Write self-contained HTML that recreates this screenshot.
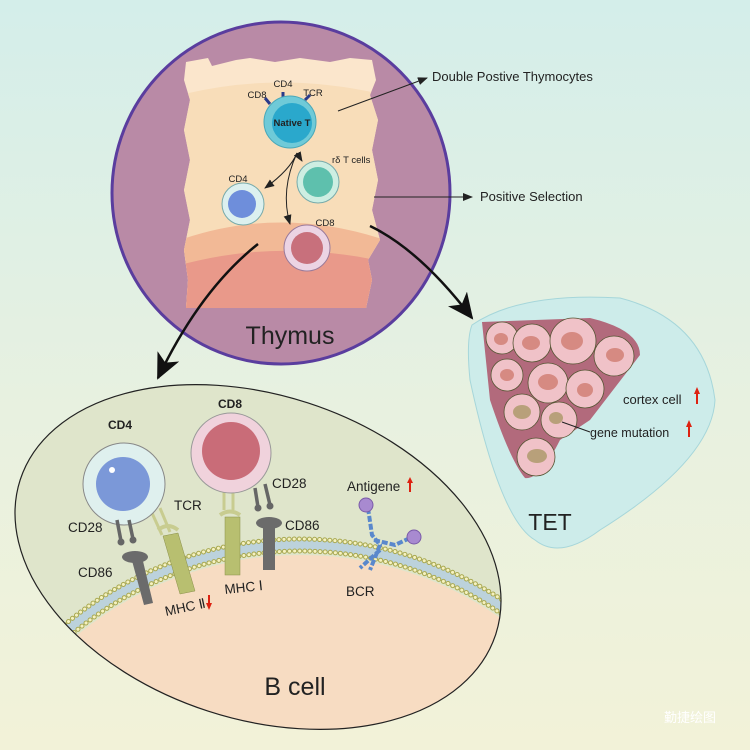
<!DOCTYPE html>
<html><head><meta charset="utf-8"><style>
html,body{margin:0;padding:0;width:750px;height:750px;overflow:hidden}
svg{display:block}
text{font-family:"Liberation Sans",sans-serif;fill:#222}
</style></head><body>
<svg width="750" height="750" viewBox="0 0 750 750" xmlns="http://www.w3.org/2000/svg" style="position:absolute;left:0;top:0">
<defs>
<linearGradient id="bg" x1="0" y1="0" x2="0" y2="1">
<stop offset="0" stop-color="#d4eeea"/><stop offset="0.55" stop-color="#e8f1e0"/><stop offset="1" stop-color="#f2f2d8"/>
</linearGradient>
<clipPath id="blk"><path d="M186,62 L208,58 212,66 236,60 250,58 275,62 300,58 330,62 350,58 372,60 376,80 370,95 378,120 372,150 378,180 372,210 380,240 368,260 372,280 366,308 186,308 188,280 184,250 190,220 184,190 190,160 184,130 190,100 184,80Z"/></clipPath>
<clipPath id="bc"><ellipse cx="258" cy="557" rx="250" ry="162" transform="rotate(18 258 557)"/></clipPath>
<marker id="ah" markerWidth="10" markerHeight="8" refX="9" refY="4" orient="auto" markerUnits="userSpaceOnUse"><path d="M0,0 L10,4 L0,8 Z" fill="#222"/></marker>
<marker id="ab" markerWidth="28" markerHeight="24" refX="24" refY="12" orient="auto" markerUnits="userSpaceOnUse"><path d="M0,0 L26,12 L0,24 L7,12 Z" fill="#111"/></marker>
</defs>
<rect width="750" height="750" fill="url(#bg)"/>

<!-- Thymus -->
<ellipse cx="281" cy="193" rx="169" ry="171" fill="#b98aa6" stroke="#5a3d9e" stroke-width="3"/>
<g clip-path="url(#blk)">
<rect x="180" y="55" width="205" height="260" fill="#fbe6cc"/>
<path d="M180,95 Q280,70 385,95 L385,315 180,315Z" fill="#f8ddb9"/>
<path d="M180,240 Q280,205 385,240 L385,315 180,315Z" fill="#f2b996"/>
<path d="M180,265 Q280,238 385,262 L385,315 180,315Z" fill="#e9998a"/>
</g>
<g stroke="#2a3a8a" stroke-width="3"><line x1="270" y1="104" x2="265" y2="98"/><line x1="283" y1="98" x2="283" y2="92"/><line x1="305" y1="100" x2="310" y2="95"/></g>
<circle cx="290" cy="122" r="26" fill="#6fcad8" stroke="#4aa8b8"/>
<circle cx="292" cy="123" r="20" fill="#2aa8cc"/>
<text x="292" y="126" font-size="9.5" font-weight="bold" text-anchor="middle" fill="#123">Native T</text>
<text x="283" y="87" font-size="9.5" text-anchor="middle">CD4</text>
<text x="257" y="98" font-size="9.5" text-anchor="middle">CD8</text>
<text x="313" y="96" font-size="9.5" text-anchor="middle">TCR</text>
<circle cx="243" cy="204" r="21" fill="#dcf0ef" stroke="#7aa"/><circle cx="242" cy="204" r="14" fill="#6e8edb"/>
<text x="238" y="182" font-size="9.5" text-anchor="middle">CD4</text>
<circle cx="318" cy="182" r="21" fill="#cdeee2" stroke="#7aa"/><circle cx="318" cy="182" r="15" fill="#5ec0ad"/>
<text x="332" y="163" font-size="9.5">rδ T cells</text>
<circle cx="307" cy="248" r="23" fill="#ecd4e4" stroke="#9a7a9a"/><circle cx="307" cy="248" r="16" fill="#c8707c"/>
<text x="325" y="226" font-size="9.5" text-anchor="middle">CD8</text>
<path d="M297,153 Q290,170 265,188" fill="none" stroke="#222" marker-end="url(#ah)"/>
<path d="M297,153 Q280,190 290,224" fill="none" stroke="#222" marker-end="url(#ah)"/>
<path d="M297,153 L302,161" fill="none" stroke="#222" marker-end="url(#ah)"/>
<text x="290" y="344" font-size="25" text-anchor="middle">Thymus</text>
<line x1="338" y1="111" x2="427" y2="78" stroke="#222" marker-end="url(#ah)"/>
<text x="432" y="81" font-size="13">Double Postive Thymocytes</text>
<line x1="374" y1="197" x2="472" y2="197" stroke="#222" marker-end="url(#ah)"/>
<text x="480" y="201" font-size="13">Positive Selection</text>
<path d="M370,226 Q420,250 472,318" fill="none" stroke="#111" stroke-width="2.5" marker-end="url(#ab)"/>
<path d="M258,244 Q200,290 158,378" fill="none" stroke="#111" stroke-width="2.5" marker-end="url(#ab)"/>

<!-- TET -->
<path d="M472,325 Q520,292 620,298 Q705,320 715,400 Q712,460 600,530 Q560,560 535,540 Q500,520 470,380 Q466,340 472,325Z" fill="#cdecea" stroke="#a6d6da"/>
<path d="M482,322 L590,318 Q640,330 640,355 L590,420 L560,440 Q540,480 525,478 Q510,460 490,400Z" fill="#b26a7c"/>
<g fill="#f0c2c8" stroke="#553" stroke-width="0.8">
<circle cx="502" cy="338" r="16"/><circle cx="532" cy="343" r="19"/><circle cx="573" cy="341" r="23"/><circle cx="614" cy="356" r="20"/>
<circle cx="507" cy="375" r="16"/><circle cx="548" cy="383" r="20"/><circle cx="585" cy="389" r="19"/>
<circle cx="522" cy="412" r="18"/><circle cx="559" cy="420" r="18"/><circle cx="536" cy="457" r="19"/>
</g>
<g fill="#d68a82"><ellipse cx="501" cy="339" rx="7" ry="6"/><ellipse cx="531" cy="343" rx="9" ry="7"/><ellipse cx="572" cy="341" rx="11" ry="9"/><ellipse cx="615" cy="355" rx="9" ry="7"/><ellipse cx="507" cy="375" rx="7" ry="6"/><ellipse cx="548" cy="382" rx="10" ry="8"/><ellipse cx="585" cy="390" rx="8" ry="7"/><ellipse cx="522" cy="412" rx="9" ry="7" fill="#b8a07a"/><ellipse cx="556" cy="418" rx="7" ry="6" fill="#b8a07a"/><ellipse cx="537" cy="456" rx="10" ry="7" fill="#b8a07a"/></g>
<line x1="562" y1="422" x2="590" y2="432" stroke="#222"/>
<text x="623" y="404" font-size="13">cortex cell</text>
<text x="590" y="437" font-size="12.5">gene mutation</text>
<path d="M694,394 l3,-7 3,7 h-2 v10 h-2 v-10z" fill="#d21"/>
<path d="M686,427 l3,-7 3,7 h-2 v10 h-2 v-10z" fill="#d21"/>
<text x="550" y="530" font-size="23" text-anchor="middle">TET</text>

<!-- B cell -->
<ellipse cx="258" cy="557" rx="250" ry="162" transform="rotate(18 258 557)" fill="#dfe5cb"/>
<g clip-path="url(#bc)">
<circle cx="300" cy="905" r="350" fill="#f7dcc2"/>
<circle cx="300" cy="905" r="360" fill="none" stroke="#bcd2dc" stroke-width="12"/>
<circle cx="300" cy="905" r="354" fill="none" stroke="#a8a850" stroke-width="5" stroke-dasharray="0.1 5" stroke-linecap="round"/>
<circle cx="300" cy="905" r="366" fill="none" stroke="#a8a850" stroke-width="5" stroke-dasharray="0.1 5" stroke-linecap="round"/>
<circle cx="300" cy="905" r="354" fill="none" stroke="#f6f2c0" stroke-width="3" stroke-dasharray="0.1 5" stroke-linecap="round"/>
<circle cx="300" cy="905" r="366" fill="none" stroke="#f6f2c0" stroke-width="3" stroke-dasharray="0.1 5" stroke-linecap="round"/>
</g>
<ellipse cx="258" cy="557" rx="250" ry="162" transform="rotate(18 258 557)" fill="none" stroke="#222" stroke-width="1.2"/>
<g stroke="#c8cc90" stroke-width="3" fill="none"><line x1="152" y1="513" x2="162" y2="535"/><line x1="160" y1="508" x2="170" y2="532"/></g>
<circle cx="124" cy="484" r="41" fill="#dff0ee" stroke="#888"/><circle cx="123" cy="484" r="27" fill="#7b98d8"/>
<circle cx="112" cy="470" r="3" fill="#fff"/>
<text x="120" y="429" font-size="12" font-weight="bold" text-anchor="middle">CD4</text>
<g stroke="#666" stroke-width="3.5"><line x1="117" y1="520" x2="121" y2="541"/><line x1="129" y1="520" x2="133" y2="539"/></g>
<circle cx="121" cy="542" r="3.5" fill="#666"/><circle cx="133" cy="540" r="3.5" fill="#666"/>
<g stroke="#c8cc90" stroke-width="3" fill="none"><line x1="224" y1="490" x2="224" y2="510"/><line x1="233" y1="490" x2="233" y2="510"/></g>
<circle cx="231" cy="453" r="40" fill="#f0d2dc" stroke="#999"/><circle cx="231" cy="451" r="29" fill="#c96c78"/>
<text x="230" y="408" font-size="12" font-weight="bold" text-anchor="middle">CD8</text>
<g stroke="#666" stroke-width="3.5"><line x1="255" y1="488" x2="258" y2="507"/><line x1="265" y1="484" x2="270" y2="505"/></g>
<circle cx="258" cy="508" r="3.5" fill="#666"/><circle cx="270" cy="506" r="3.5" fill="#666"/>
<path d="M158,530 Q168,522 178,530" fill="none" stroke="#c8cc90" stroke-width="4"/>
<polygon points="163,536 178,533 195,591 180,594" fill="#b8bf70" stroke="#8a8f4a" stroke-width="0.5"/>
<path d="M220,515 Q230,508 240,515" fill="none" stroke="#c8cc90" stroke-width="4"/>
<rect x="225" y="517" width="15" height="58" fill="#b8bf70" stroke="#8a8f4a" stroke-width="0.5"/>
<ellipse cx="135" cy="557" rx="13" ry="6" fill="#6b6b6b"/>
<polygon points="131,557 142,557 153,603 144,605" fill="#6b6b6b"/>
<ellipse cx="269" cy="523" rx="13" ry="6" fill="#6b6b6b"/>
<rect x="263" y="523" width="12" height="47" fill="#6b6b6b"/>
<g stroke="#5a88cc" stroke-width="4" fill="none" stroke-dasharray="6 2">
<path d="M368,508 L372,535 L380,545 L370,570"/><path d="M374,540 L395,545 L412,537"/><path d="M380,550 L360,568"/>
</g>
<circle cx="366" cy="505" r="7" fill="#a88ad0" stroke="#7a5aa8"/>
<circle cx="414" cy="537" r="7" fill="#a88ad0" stroke="#7a5aa8"/>
<text x="68" y="532" font-size="13.5">CD28</text>
<text x="174" y="510" font-size="13.5">TCR</text>
<text x="272" y="488" font-size="13.5">CD28</text>
<text x="285" y="530" font-size="13.5">CD86</text>
<text x="78" y="577" font-size="13.5">CD86</text>
<text x="166" y="616" font-size="13.5" transform="rotate(-12 166 616)">MHC Ⅱ</text>
<path d="M210,595 l-2,0 0,8 -2,0 3,7 3,-7 -2,0z" fill="#d21"/>
<text x="225" y="594" font-size="13.5" transform="rotate(-6 225 594)">MHC Ⅰ</text>
<text x="347" y="491" font-size="13.5">Antigene</text>
<path d="M410,477 l3,6 h-2 v9 h-2 v-9 h-2z" fill="#d21"/>
<text x="346" y="596" font-size="13.5">BCR</text>
<text x="295" y="695" font-size="25" text-anchor="middle">B cell</text>
<text x="690" y="722" font-size="13" text-anchor="middle" style="fill:#fff;font-family:'Liberation Sans','Noto Sans CJK SC',sans-serif">勤捷绘图</text>
</svg>
</body></html>
